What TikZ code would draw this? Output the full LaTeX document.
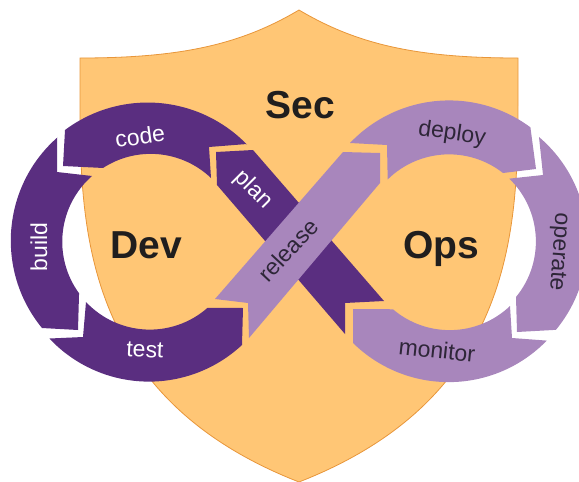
\documentclass[tikz,border=0pt]{standalone}
\usepackage{fontspec}
\setmainfont{Liberation Sans}
\definecolor{shieldfill}{HTML}{FFC675}
\definecolor{shieldedge}{HTML}{E8963A}
\definecolor{deep}{HTML}{5A2E80}
\definecolor{soft}{HTML}{A886BC}
\definecolor{ink}{HTML}{201E1E}
\definecolor{softink}{HTML}{2E2638}
\tikzset{
  shield/.style={fill=shieldfill,draw=shieldedge,line width=0.8pt,line join=miter},
  devpart/.style={fill=deep},
  opspart/.style={fill=soft},
  big/.style={text=ink,font=\fontsize{39}{39}\selectfont\bfseries,inner sep=0pt,anchor=base},
  devlabel/.style={text=white,font=\fontsize{23}{23}\selectfont,inner sep=0pt},
  opslabel/.style={text=softink,font=\fontsize{23}{23}\selectfont,inner sep=0pt}
}
\begin{document}
\begin{tikzpicture}[x=1pt,y=-1pt]
\useasboundingbox (0,0) rectangle (579,482);
% shield
\draw[shield] (299,10) .. controls (240,45) and (180,58) .. (80,58)
  -- (80,100) .. controls (80,230) and (84,398) .. (299,482)
  .. controls (514,398) and (518,230) .. (518,100) -- (518,58)
  .. controls (418,58) and (358,45) .. (299,10) -- cycle;
% Dev ring
\fill[devpart] (65,130) arc[start angle=233.5,end angle=315.5,x radius=139,y radius=140]
  -- (247,144) -- (209,147) -- (211,178)
  arc[start angle=313.6,end angle=237,radius=87.5] -- (63,166) -- cycle;
\fill[devpart] (57,138) -- (57,172) -- (92,176)
  arc[start angle=228.7,end angle=143.9,radius=87.5] -- (78,330) -- (42,328)
  arc[start angle=140.4,end angle=228.9,x radius=136,y radius=137] -- cycle;
\fill[devpart] (86,302) arc[start angle=136.8,end angle=48.7,radius=87.5]
  -- (243,308) -- (242,345)
  arc[start angle=47.6,end angle=136.2,x radius=138,y radius=140] -- (83,337) -- cycle;
% crossing
\fill[devpart] (216,152) -- (253,150) -- (384,301) -- (345,303) -- (345,334) -- (217,185) -- cycle;
\fill[opspart] (215,299) -- (248,303) -- (249,338) -- (380,183) -- (380,153) -- (343,152) -- cycle;
% Ops ring
\fill[opspart] (350,143) arc[start angle=224.1,end angle=306.1,x radius=138,y radius=140]
  -- (536,169) -- (503,173)
  arc[start angle=308.1,end angle=225.5,radius=87.5] -- (387,145) -- cycle;
\fill[opspart] (539,137) arc[start angle=-49.8,end angle=39.7,x radius=136.5,y radius=137.5]
  -- (517,332) -- (516,297)
  arc[start angle=39.4,end angle=-45.9,radius=87.5] -- (543,175) -- cycle;
\fill[opspart] (510,306) arc[start angle=46.4,end angle=130.4,radius=87.5]
  -- (353,309) -- (353,343)
  arc[start angle=133.9,end angle=44.7,x radius=138,y radius=140] -- (512,338) -- cycle;
% large labels
\node[big] (sec) at (300,118) {Sec};
\node[big] (dev) at (146,258) {Dev};
\node[big] (ops) at (441,258) {Ops};
% step labels
\node[devlabel,rotate=8] (code) at (140,136) {code};
\node[devlabel,rotate=90] (build) at (39,247) {build};
\node[devlabel,rotate=-3] (test) at (145,350) {test};
\node[devlabel,rotate=-45] (plan) at (253,190) {plan};
\node[opslabel,rotate=47] (release) at (288,250) {release};
\node[opslabel,rotate=-8] (deploy) at (452,134) {deploy};
\node[opslabel,rotate=-94] (operate) at (558,252) {operate};
\node[opslabel,rotate=-6] (monitor) at (437,350) {monitor};
\end{tikzpicture}
\end{document}
